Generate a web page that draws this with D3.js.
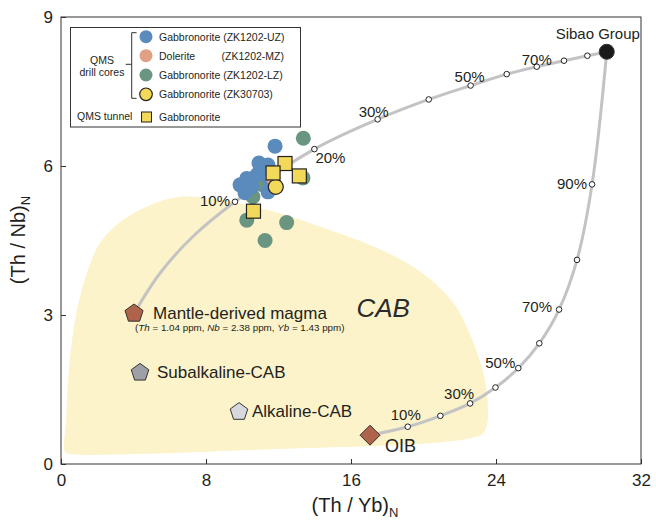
<!DOCTYPE html>
<html><head><meta charset="utf-8">
<script src="https://cdn.jsdelivr.net/npm/d3@7"></script>
<style>
body{margin:0;background:#fff;}
svg{display:block;font-family:"Liberation Sans",Arial,Helvetica,sans-serif;}
</style>
</head><body>
<svg id="c" width="656" height="524"></svg>
<script>
// ---------- data ----------
const xTicks = [0, 8, 16, 24, 32];
const yTicks = [0, 3, 6, 9];

// QMS drill cores / tunnel samples: [(Th/Yb)N, (Th/Nb)N]
const uzPts = [[11.81,6.40],[10.92,6.06],[11.42,6.02],[10.98,5.92],[10.80,5.82],[10.25,5.75],[11.53,5.72],[9.88,5.62],[10.52,5.58],[11.42,5.48],[10.15,5.46]];
const lzPts = [[13.37,6.56],[13.35,5.76],[10.59,5.38],[11.14,5.62],[10.25,4.91],[12.45,4.86],[11.26,4.50]];
const mzPts = [[11.68,5.77]];
const zk30703Pts = [[11.85,5.58]];
const tunnelPts = [[12.36,6.05],[13.15,5.80],[11.70,5.86],[10.62,5.09]];

// reference end-members
const refNames = ["Mantle-derived magma","Subalkaline-CAB","Alkaline-CAB","OIB","Sibao Group"];
const refX = [4.03, 4.36, 9.82, 17.05, 30.11];
const refY = [3.03, 1.84, 1.05, 0.58, 8.30];

// mixing curve 1: mantle-derived magma -> Sibao Group (line path)
const mix1Line = [[4.03,3.03],[5.46,3.84],[7.28,4.58],[9.60,5.28],[13.98,6.34],[17.47,6.94],[20.29,7.34],[22.60,7.62],[24.59,7.85],[26.25,8.00],[27.75,8.12],[29.04,8.22],[30.11,8.30]];
const mix1Pct = [10,20,30,40,50,60,70,80,90];
const mix1X = [9.60,13.98,17.47,20.29,22.60,24.59,26.25,27.75,29.04];
const mix1Y = [5.28,6.34,6.94,7.34,7.62,7.85,8.00,8.12,8.22];
const mix1Labelled = [10,20,30,50,70];

// mixing curve 2: OIB -> Sibao Group
const mix2Line = [[17.05,0.58],[19.13,0.75],[20.93,0.97],[22.57,1.22],[23.97,1.54],[25.23,1.93],[26.39,2.43],[27.48,3.11],[28.47,4.11],[29.30,5.63],[30.11,8.30]];
const mix2Pct = [10,20,30,40,50,60,70,80,90];
const mix2X = [19.13,20.93,22.57,23.97,25.23,26.39,27.48,28.47,29.30];
const mix2Y = [0.75,0.97,1.22,1.54,1.93,2.43,3.11,4.11,5.63];
const mix2Labelled = [10,30,50,70,90];

// CAB field outline
const cabRegion = [[0.22,0.24],[0.28,0.89],[0.39,1.69],[0.61,2.50],[0.94,3.20],[1.49,3.91],[2.15,4.45],[3.26,4.87],[4.91,5.21],[6.57,5.38],[8.77,5.32],[10.98,5.15],[12.80,4.97],[14.84,4.71],[17.05,4.41],[18.98,4.07],[20.63,3.64],[21.74,3.20],[22.46,2.70],[23.01,2.19],[23.39,1.69],[23.56,1.09],[23.50,0.79],[23.23,0.60],[22.29,0.50],[20.36,0.42],[18.15,0.38],[15.39,0.34],[10.43,0.28],[4.36,0.20],[0.50,0.20]];

const legendGroups = ["Gabbronorite (ZK1202-UZ)","Dolerite","Gabbronorite (ZK1202-LZ)","Gabbronorite (ZK30703)"];
const legendTunnel = "Gabbronorite";

// ---------- drawing ----------
const svg = d3.select("#c");
const x = d3.scaleLinear().domain([0,32]).range([61,641]);
const y = d3.scaleLinear().domain([0,9]).range([464,17]);
const ink = "#231f20";

// CAB field
svg.append("path").datum(cabRegion)
  .attr("d", d3.line().x(d=>x(d[0])).y(d=>y(d[1])).curve(d3.curveCatmullRomClosed.alpha(0.5)))
  .attr("fill","#fcf3cb");

// axes
const gx = svg.append("g").attr("transform",`translate(0,${y(0)})`)
  .call(d3.axisBottom(x).tickValues(xTicks).tickSizeInner(-5).tickSizeOuter(0).tickPadding(10));
const gy = svg.append("g").attr("transform",`translate(${x(0)},0)`)
  .call(d3.axisLeft(y).tickValues(yTicks).tickSizeInner(-5).tickSizeOuter(0).tickPadding(8));
[gx,gy].forEach(g=>{
  g.attr("font-family",null).attr("font-size",null);
  g.select(".domain").remove();
  g.selectAll(".tick line").attr("stroke","#333");
  g.selectAll(".tick text").attr("font-size",17).attr("fill",ink);
});
svg.append("rect").attr("x",x(0)).attr("y",y(9)).attr("width",x(32)-x(0)).attr("height",y(0)-y(9))
  .attr("fill","none").attr("stroke","#333").attr("stroke-width",1);

// axis titles
const xt = svg.append("text").attr("x",(x(0)+x(32))/2+4).attr("y",512).attr("text-anchor","middle")
  .attr("font-size",20).attr("fill",ink);
xt.append("tspan").text("(Th / Yb)");
xt.append("tspan").attr("font-size",13).attr("dy","0.35em").text("N");
const yt = svg.append("text").attr("transform","translate(25,240) rotate(-90)").attr("text-anchor","middle")
  .attr("font-size",20).attr("fill",ink);
yt.append("tspan").text("(Th / Nb)");
yt.append("tspan").attr("font-size",13).attr("dy","0.35em").text("N");

// mixing curves
const curveLine = d3.line().x(d=>x(d[0])).y(d=>y(d[1])).curve(d3.curveCatmullRom.alpha(0.5));
[mix1Line, mix2Line].forEach(l=>{
  svg.append("path").datum(l).attr("d",curveLine).attr("fill","none")
    .attr("stroke","#c3c3c3").attr("stroke-width",3).attr("stroke-linecap","round");
});

// tick markers on curves
function markers(px, py){
  svg.append("g").selectAll("circle").data(px).join("circle")
    .attr("cx",d=>x(d)).attr("cy",(d,i)=>y(py[i])).attr("r",2.8)
    .attr("fill","#fff").attr("stroke","#222").attr("stroke-width",1);
}
markers(mix1X, mix1Y);
markers(mix2X, mix2Y);

// percentage labels (offsets in px from marker)
const pctOff1 = {10:[-5,4,"end"],20:[1,14,"start"],30:[-4,-2,"middle"],50:[-1,-4,"middle"],70:[0,-2,"middle"]};
const pctOff2 = {10:[-2,-7,"middle"],30:[-11,-4,"middle"],50:[-3,0,"end"],70:[-7,2,"end"],90:[-5,5,"end"]};
function pctLabels(pcts, px, py, labelled, off){
  labelled.forEach(p=>{
    const i = pcts.indexOf(p); const o = off[p];
    svg.append("text").attr("x",x(px[i])+o[0]).attr("y",y(py[i])+o[1]).attr("text-anchor",o[2])
      .attr("font-size",15).attr("fill",ink).text(p+"%");
  });
}
pctLabels(mix1Pct, mix1X, mix1Y, mix1Labelled, pctOff1);
pctLabels(mix2Pct, mix2X, mix2Y, mix2Labelled, pctOff2);

// CAB text
svg.append("text").attr("x",x(16.3)).attr("y",y(2.95)).attr("font-size",26).attr("font-style","italic")
  .attr("fill","#2b2b2b").text("CAB");

// data points
function dots(pts, fill, r, stroke){
  svg.append("g").selectAll("circle").data(pts).join("circle")
    .attr("cx",d=>x(d[0])).attr("cy",d=>y(d[1])).attr("r",r)
    .attr("fill",fill).attr("stroke",stroke||"none").attr("stroke-width",stroke?1.2:0);
}
const cUZ = "#5b8bbc", cMZ = "#dfa084", cLZ = "#6a9580", cY = "#f3d95a";
dots(lzPts, cLZ, 7.5);
dots(uzPts, cUZ, 7.5);
dots(mzPts, cMZ, 7.5);
dots(zk30703Pts, cY, 7.5, "#222");
svg.append("g").selectAll("rect").data(tunnelPts).join("rect")
  .attr("x",d=>x(d[0])-7).attr("y",d=>y(d[1])-7).attr("width",14).attr("height",14)
  .attr("fill",cY).attr("stroke","#222").attr("stroke-width",1.2);

// end-member symbols
const pentagon = {draw(ctx,size){const r=Math.sqrt(size);for(let i=0;i<5;i++){const a=-Math.PI/2+i*2*Math.PI/5;const px=r*Math.cos(a),py=r*Math.sin(a);i?ctx.lineTo(px,py):ctx.moveTo(px,py);}ctx.closePath();}};
const diamond = {draw(ctx,size){const r=Math.sqrt(size);ctx.moveTo(0,-r);ctx.lineTo(r,0);ctx.lineTo(0,r);ctx.lineTo(-r,0);ctx.closePath();}};
const refStyle = [
  {type:pentagon,size:90,fill:"#b0634b"},
  {type:pentagon,size:85,fill:"#9fa0a5"},
  {type:pentagon,size:85,fill:"#d6d8dd"},
  {type:diamond,size:100,fill:"#b0634b"},
  {type:d3.symbolCircle,size:Math.PI*7.5*7.5,fill:"#1a1a1a"}
];
const refLab = [[19,5,"start",17],[17,5,"start",17],[13,5,"start",17],[15,17,"start",18],[-9,-13,"middle",15]];
refNames.forEach((n,i)=>{
  const s = refStyle[i];
  svg.append("path").attr("transform",`translate(${x(refX[i])},${y(refY[i])})`)
    .attr("d",d3.symbol().type(s.type).size(s.size)())
    .attr("fill",s.fill).attr("stroke","#333").attr("stroke-width",1);
  const L = refLab[i];
  svg.append("text").attr("x",x(refX[i])+L[0]).attr("y",y(refY[i])+L[1]).attr("text-anchor",L[2])
    .attr("font-size",L[3]).attr("fill",ink).text(n);
});
// mantle composition note
const note = svg.append("text").attr("x",x(refX[0])+1).attr("y",y(refY[0])+17).attr("font-size",9.8).attr("fill",ink);
[["(",0],["Th",1],[" = 1.04 ppm, ",0],["Nb",1],[" = 2.38 ppm, ",0],["Yb",1],[" = 1.43 ppm)",0]].forEach(t=>{
  note.append("tspan").attr("font-style",t[1]?"italic":null).text(t[0]);
});

// legend
const lg = svg.append("g");
lg.append("rect").attr("x",70.5).attr("y",27.5).attr("width",230).attr("height",99.5)
  .attr("fill","#fff").attr("stroke","#333").attr("stroke-width",1);
const legYs = [36.7,55.7,75,94.3];
const legFills = [cUZ,cMZ,cLZ,cY];
legendGroups.forEach((t,i)=>{
  lg.append("circle").attr("cx",146).attr("cy",legYs[i]).attr("r",i===3?6.3:6.5).attr("fill",legFills[i])
    .attr("stroke",i===3?"#222":"none").attr("stroke-width",1.2);
  lg.append("text").attr("x",159).attr("y",legYs[i]+4).attr("font-size",10.5).attr("fill",ink).text(t);
});
lg.append("text").attr("x",284).attr("y",legYs[1]+4).attr("text-anchor","end").attr("font-size",10.5).attr("fill",ink).text("(ZK1202-MZ)");
lg.append("path").attr("d","M136.5,32.7H131.7V98.3H136.5M131.7,64.3H125.7").attr("fill","none").attr("stroke","#333").attr("stroke-width",1);
lg.append("text").attr("x",102).attr("y",64).attr("text-anchor","middle").attr("font-size",10.5).attr("fill",ink).text("QMS");
lg.append("text").attr("x",102).attr("y",76).attr("text-anchor","middle").attr("font-size",10.5).attr("fill",ink).text("drill cores");
lg.append("text").attr("x",77).attr("y",120).attr("font-size",10.5).attr("fill",ink).text("QMS tunnel");
lg.append("rect").attr("x",141.5).attr("y",112).attr("width",10).attr("height",10).attr("fill",cY).attr("stroke","#222").attr("stroke-width",1);
lg.append("text").attr("x",159).attr("y",120.5).attr("font-size",10.5).attr("fill",ink).text(legendTunnel);
</script>
</body></html>
